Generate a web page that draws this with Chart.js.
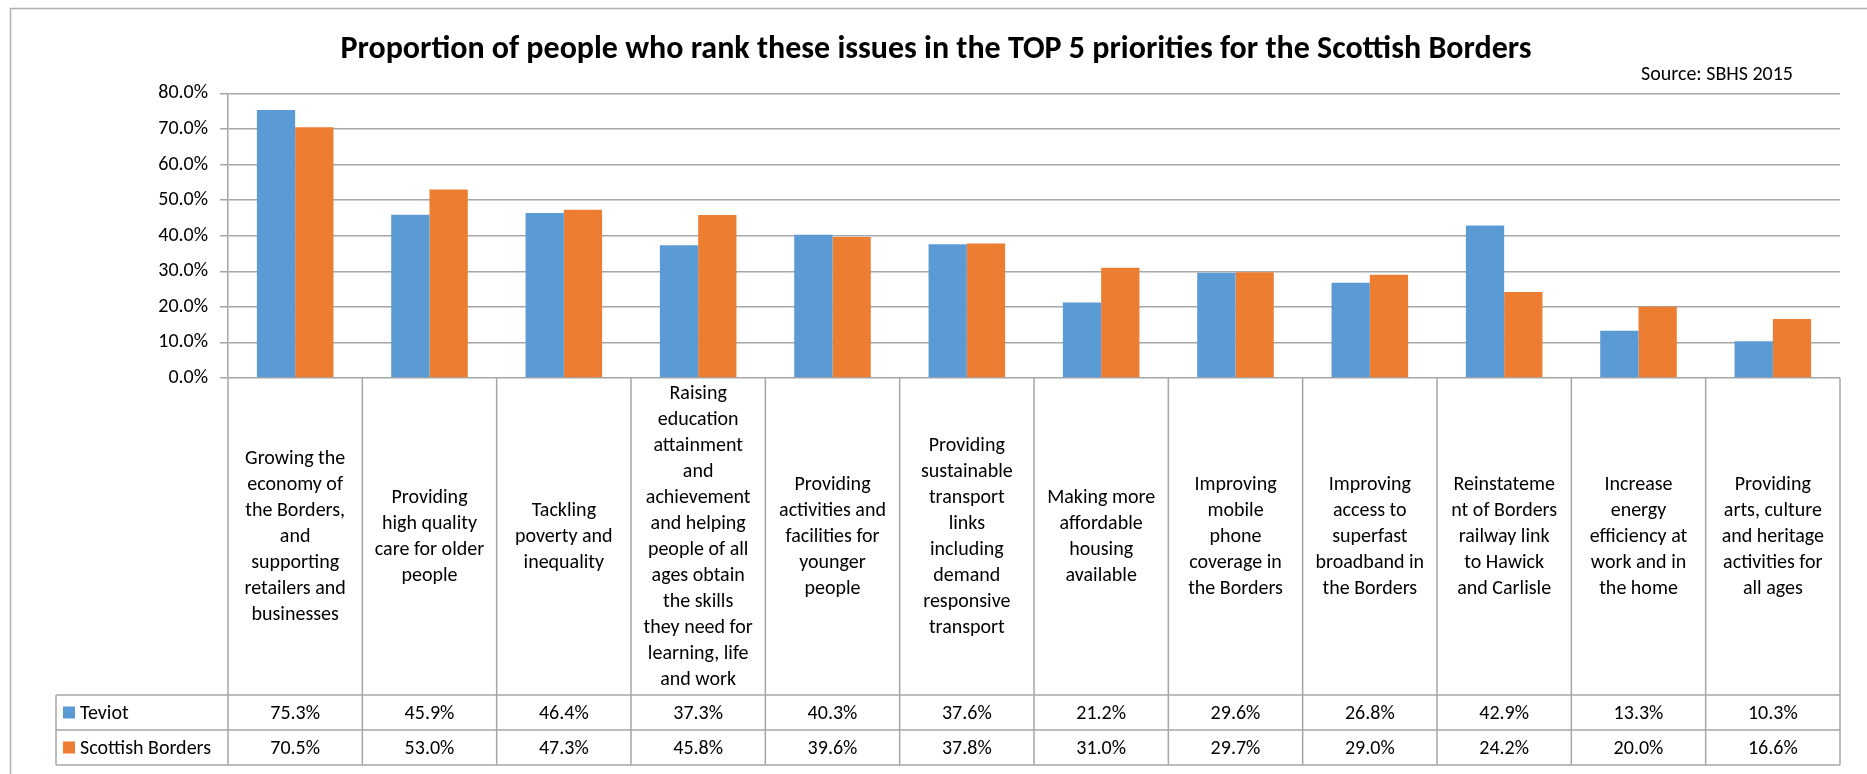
<!DOCTYPE html>
<html>
<head>
<meta charset="utf-8">
<script src="https://cdn.jsdelivr.net/npm/chart.js@4"></script>
<style>
  html, body { margin: 0; padding: 0; background: #fff; }
  #wrap { position: relative; width: 1867px; height: 774px; }
</style>
</head>
<body>
<div id="wrap"><canvas id="chart"></canvas></div>
<script>
// category labels, wrapped the same way as the original table cells
const categories = [
    ['Growing the', 'economy of', 'the Borders,', 'and', 'supporting', 'retailers and', 'businesses'],
    ['Providing', 'high quality', 'care for older', 'people'],
    ['Tackling', 'poverty and', 'inequality'],
    ['Raising', 'education', 'attainment', 'and', 'achievement', 'and helping', 'people of all', 'ages obtain', 'the skills', 'they need for', 'learning, life', 'and work'],
    ['Providing', 'activities and', 'facilities for', 'younger', 'people'],
    ['Providing', 'sustainable', 'transport', 'links', 'including', 'demand', 'responsive', 'transport'],
    ['Making more', 'affordable', 'housing', 'available'],
    ['Improving', 'mobile', 'phone', 'coverage in', 'the Borders'],
    ['Improving', 'access to', 'superfast', 'broadband in', 'the Borders'],
    ['Reinstateme', 'nt of Borders', 'railway link', 'to Hawick', 'and Carlisle'],
    ['Increase', 'energy', 'efficiency at', 'work and in', 'the home'],
    ['Providing', 'arts, culture', 'and heritage', 'activities for', 'all ages']
];

const teviot = [75.3, 45.9, 46.4, 37.3, 40.3, 37.6, 21.2, 29.6, 26.8, 42.9, 13.3, 10.3];
const scottishBorders = [70.5, 53.0, 47.3, 45.8, 39.6, 37.8, 31.0, 29.7, 29.0, 24.2, 20.0, 16.6];

const seriesNames = ['Teviot', 'Scottish Borders'];
const seriesColors = ['#5B9BD5', '#ED7D31'];

const yMax = 80;
const yStep = 10;

const titleText = 'Proportion of people who rank these issues in the TOP 5 priorities for the Scottish Borders';
const sourceText = 'Source: SBHS 2015';

const FONT = 'Carlito, Lato, sans-serif';
const LINE = '#a6a6a6';
const TEXT = '#000';

// outer frame of the chart object
const framePlugin = {
    id: 'frame',
    beforeDraw(chart) {
        const ctx = chart.ctx;
        ctx.save();
        ctx.fillStyle = '#fff';
        ctx.fillRect(0, 0, chart.width, chart.height);
        ctx.strokeStyle = '#b0b0b0';
        ctx.lineWidth = 1.5;
        ctx.beginPath();
        ctx.moveTo(10.5, chart.height);
        ctx.lineTo(10.5, 8.5);
        ctx.lineTo(chart.width, 8.5);
        ctx.stroke();
        ctx.restore();
    }
};

// Excel style data table under the plot
const tablePlugin = {
    id: 'dataTable',
    afterDraw(chart) {
        const ctx = chart.ctx;
        const x = chart.scales.x;
        const area = chart.chartArea;
        const n = categories.length;
        const w = (x.right - x.left) / n;
        const labelBottom = area.bottom + 317;
        const rowH = 35;
        const tableBottom = labelBottom + rowH * 2;
        const tableLeft = 56;

        ctx.save();
        ctx.strokeStyle = LINE;
        ctx.lineWidth = 1.5;
        ctx.beginPath();
        for (let i = 0; i <= n; i++) {
            const px = x.getPixelForValue(i) - w / 2;
            ctx.moveTo(px, area.bottom);
            ctx.lineTo(px, tableBottom);
        }
        for (let r = 0; r <= 2; r++) {
            const py = labelBottom + r * rowH;
            ctx.moveTo(tableLeft, py);
            ctx.lineTo(x.right, py);
        }
        ctx.moveTo(tableLeft, labelBottom);
        ctx.lineTo(tableLeft, tableBottom);
        ctx.stroke();

        // category labels, centred in their cells
        ctx.fillStyle = TEXT;
        ctx.font = '20px ' + FONT;
        ctx.textAlign = 'center';
        ctx.textBaseline = 'middle';
        const lh = 26;
        const midY = (area.bottom + labelBottom) / 2;
        categories.forEach((lines, i) => {
            const cx = x.getPixelForValue(i);
            const y0 = midY - (lines.length - 1) * lh / 2;
            lines.forEach((t, j) => ctx.fillText(t, cx, y0 + j * lh));
        });

        // value rows with legend keys
        chart.data.datasets.forEach((ds, r) => {
            const cy = labelBottom + rowH * r + rowH / 2;
            ctx.fillStyle = ds.backgroundColor;
            ctx.fillRect(63, cy - 6, 12, 12);
            ctx.fillStyle = TEXT;
            ctx.textAlign = 'left';
            ctx.fillText(ds.label, 80, cy + 1);
            ctx.textAlign = 'center';
            ds.data.forEach((v, i) => {
                ctx.fillText(v.toFixed(1) + '%', x.getPixelForValue(i), cy + 1);
            });
        });

        // source note
        ctx.textAlign = 'right';
        ctx.fillText(sourceText, 1793, 75);
        ctx.restore();
    }
};

const ctx = document.getElementById('chart').getContext('2d');
new Chart(ctx, {
    type: 'bar',
    data: {
        labels: categories,
        datasets: [
            { label: seriesNames[0], data: teviot, backgroundColor: seriesColors[0] },
            { label: seriesNames[1], data: scottishBorders, backgroundColor: seriesColors[1] }
        ]
    },
    options: {
        responsive: true,
        maintainAspectRatio: false,
        animation: false,
        layout: { padding: { left: 32, right: 27, top: 0, bottom: 396 } },
        datasets: { bar: { categoryPercentage: 0.57, barPercentage: 1.0 } },
        plugins: {
            legend: { display: false },
            tooltip: { enabled: false },
            title: {
                display: true,
                text: titleText,
                color: TEXT,
                font: { family: FONT, size: 32, weight: 'bold' },
                padding: { top: 31, bottom: 24 }
            }
        },
        scales: {
            x: { display: false },
            y: {
                min: 0,
                max: yMax,
                ticks: {
                    stepSize: yStep,
                    color: TEXT,
                    font: { family: FONT, size: 20 },
                    padding: 12,
                    callback: v => v.toFixed(1) + '%'
                },
                grid: { color: LINE, lineWidth: 1.5, tickLength: 8 },
                border: { color: LINE, width: 1.5 },
                afterFit(scale) { scale.width = 196; }
            }
        }
    },
    plugins: [framePlugin, tablePlugin]
});
</script>
</body>
</html>
